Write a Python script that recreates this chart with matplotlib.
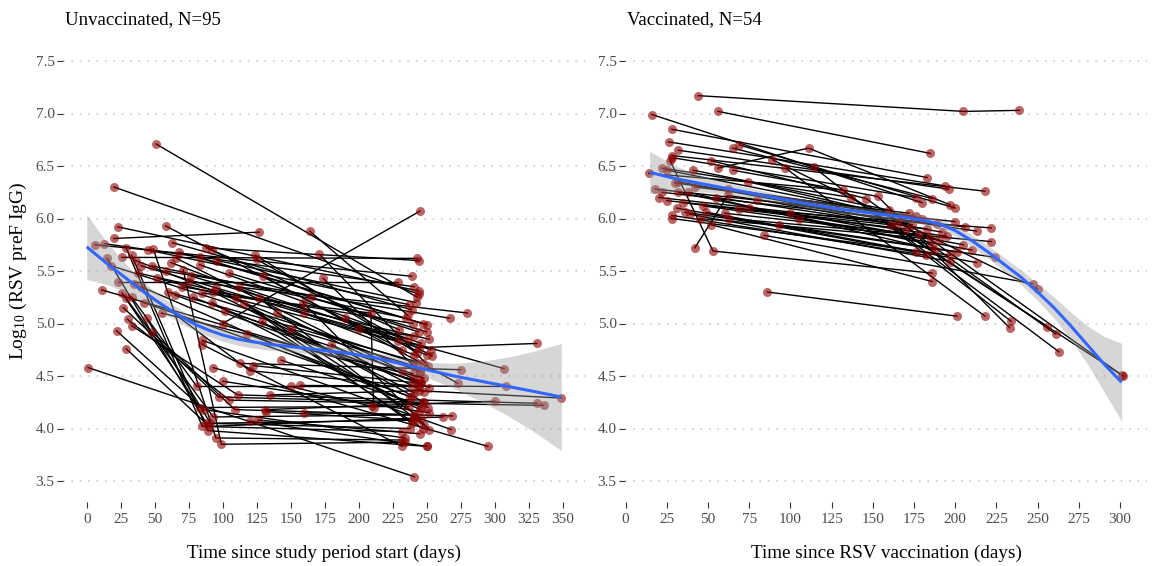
import numpy as np
import matplotlib.pyplot as plt

plt.rcParams['font.family'] = ['Liberation Serif', 'DejaVu Serif']
plt.rcParams['mathtext.fontset'] = 'custom'
plt.rcParams['mathtext.rm'] = 'Liberation Serif'
plt.rcParams['mathtext.it'] = 'Liberation Serif:italic'

# unvaccinated: one list per subject (days since study period start, log10 titer)
unvax_days = [
    [51, 243], [20, 244], [20, 127], [23, 244], [58, 232], [164, 236], [100, 245], [1, 241],
    [6, 239], [13, 241], [23, 229], [26, 243], [88, 244], [29, 85, 232], [33, 89, 250],
    [45, 237], [49, 95, 232], [63, 239], [68, 247], [71, 99, 234], [83, 250], [92, 230],
    [83, 246], [124, 243], [125, 254], [171, 251], [174, 245], [52, 229], [26, 83, 237],
    [29, 93, 241], [33, 81, 239], [11, 241], [65, 246], [78, 252], [85, 209, 211], [93, 241],
    [95, 248], [92, 245], [110, 246], [116, 239], [127, 248], [159, 252], [129, 247],
    [22, 86, 234], [29, 90, 262], [30, 105, 336], [33, 111, 331], [48, 109, 269], [85, 268],
    [85, 232], [93, 295], [113, 275], [122, 246], [131, 300], [135, 244, 349], [157, 308],
    [160, 241], [160, 307], [130, 273], [40, 244, 331], [58, 267], [75, 280], [120, 250],
    [100, 252], [18, 243], [36, 245], [40, 246], [42, 239], [55, 248], [62, 241], [38, 252],
    [27, 97, 247], [44, 91, 243], [15, 88, 238], [66, 232], [105, 250], [140, 244], [150, 240],
    [180, 248], [200, 241], [118, 238], [143, 251], [132, 240], [126, 245], [150, 210],
    [70, 240], [35, 120, 244], [48, 235], [96, 242], [112, 253], [60, 247], [77, 236],
    [102, 240], [165, 244], [190, 250],
]
unvax_vals = [
    [6.71, 5.25], [6.30, 5.28], [5.81, 5.87], [5.92, 5.31], [5.93, 4.75], [5.88, 5.08], [5.00, 6.07], [4.58, 3.54],
    [5.75, 5.45], [5.76, 5.35], [5.40, 5.40], [5.63, 5.62], [5.72, 5.60], [5.72, 4.02, 3.97], [5.65, 3.98, 3.83],
    [5.70, 5.18], [5.71, 3.91, 3.89], [5.77, 5.13], [5.68, 5.00], [5.51, 3.85, 3.87], [5.63, 4.99], [5.70, 4.94],
    [5.56, 4.81], [5.65, 4.72], [5.61, 4.69], [5.66, 4.60], [5.43, 4.54], [5.43, 4.83], [5.29, 4.20, 4.21],
    [5.24, 4.11, 4.13], [5.25, 4.40, 4.40], [5.32, 4.46], [5.27, 4.43], [5.25, 4.39], [5.29, 5.10, 4.20], [5.30, 4.34],
    [5.34, 4.25], [5.20, 4.18], [5.24, 4.10], [5.19, 4.05], [5.24, 4.03], [5.20, 3.99], [5.02, 4.00],
    [4.93, 4.18, 3.91], [4.76, 4.02, 4.11], [5.04, 4.27, 4.22], [4.98, 4.32, 4.24], [4.92, 4.18, 4.12], [4.84, 3.99],
    [4.80, 3.83], [4.58, 3.83], [4.62, 4.56], [4.60, 4.43], [4.18, 4.26], [4.32, 4.36, 4.29], [4.41, 4.40],
    [4.15, 4.13], [5.10, 4.57], [5.45, 4.43], [5.55, 4.77, 4.81], [5.50, 5.05], [5.40, 5.10], [4.07, 3.83],
    [4.45, 4.15], [5.55, 4.62], [5.60, 4.54], [5.35, 4.20], [5.20, 4.30], [5.10, 4.48], [5.58, 4.70], [5.48, 4.85],
    [5.15, 4.30, 4.25], [5.05, 4.05, 4.08], [5.62, 4.05, 4.00], [5.62, 4.55], [5.48, 4.92], [5.10, 4.45], [4.95, 4.60],
    [4.80, 4.35], [4.95, 4.88], [4.90, 4.30], [4.65, 4.20], [4.16, 4.08], [4.08, 3.95], [4.40, 4.21],
    [5.35, 5.00], [5.38, 4.55, 4.40], [5.55, 5.05], [5.60, 5.20], [5.35, 4.75], [5.30, 4.62], [5.45, 4.85],
    [5.12, 4.52], [5.25, 4.92], [5.05, 4.70],
]

# vaccinated: days since RSV vaccination
vax_days = [
    [44, 205, 239], [56, 185], [16, 180], [28, 183], [26, 194], [32, 196], [28, 218], [28, 176],
    [27, 53, 186], [65, 186], [69, 200], [56, 111, 197], [42, 62, 213], [41, 160, 301],
    [52, 146, 261], [65, 153, 233], [14, 132, 263], [22, 137, 256], [25, 189], [30, 180],
    [32, 174], [74, 168], [18, 200], [22, 206], [25, 161, 302], [32, 186], [38, 188], [31, 176],
    [28, 182], [28, 197], [36, 201], [39, 197], [49, 213], [52, 186], [63, 222], [69, 222],
    [93, 224], [84, 247], [86, 201], [89, 250], [97, 218], [114, 234], [45, 190], [60, 178],
    [35, 170], [75, 195], [20, 165], [100, 205], [55, 183], [42, 172], [80, 192], [47, 185],
    [105, 210], [62, 176],
]
vax_vals = [
    [7.17, 7.02, 7.03], [7.02, 6.62], [6.99, 6.15], [6.85, 6.39], [6.73, 6.31], [6.65, 6.28], [6.60, 6.26], [6.58, 6.20],
    [6.55, 5.69, 5.48], [6.67, 6.19], [6.70, 6.10], [6.48, 6.67, 6.13], [5.72, 6.22, 5.88], [6.46, 6.08, 4.51],
    [6.55, 6.19, 4.90], [6.46, 6.21, 4.96], [6.43, 6.27, 4.73], [6.48, 6.20, 4.97], [6.46, 5.95], [6.34, 6.00],
    [6.35, 5.94], [6.35, 6.01], [6.28, 5.97], [6.25, 5.92], [6.17, 5.94, 4.50], [6.25, 5.75], [6.25, 5.70], [6.10, 5.68],
    [6.03, 5.65], [6.00, 5.65], [6.06, 5.68], [6.04, 5.59], [6.06, 5.58], [5.94, 5.40], [6.00, 5.78], [6.09, 5.91],
    [5.94, 5.63], [5.84, 5.38], [5.30, 5.07], [6.56, 5.33], [6.48, 5.07], [6.49, 5.02], [6.00, 5.80], [6.05, 5.85],
    [6.15, 5.90], [6.10, 5.83], [6.20, 5.95], [6.05, 5.75], [6.20, 5.90], [6.30, 6.05], [6.18, 5.87], [6.12, 5.82],
    [6.00, 5.70], [6.28, 6.02],
]

# loess fit: centre and half width of the confidence band
unvax_fit_x = [0, 15, 30, 45, 60, 70, 80, 90, 100, 110, 120, 135, 150, 170, 190, 210, 230, 250, 270, 290, 310, 330, 349]
unvax_fit_y = [5.73, 5.57, 5.42, 5.27, 5.14, 5.06, 4.99, 4.935, 4.89, 4.855, 4.83, 4.80, 4.78, 4.75, 4.72, 4.68, 4.62, 4.56, 4.50, 4.45, 4.40, 4.35, 4.30]
unvax_fit_se = [0.31, 0.20, 0.13, 0.09, 0.07, 0.065, 0.06, 0.06, 0.06, 0.06, 0.06, 0.055, 0.05, 0.05, 0.05, 0.05, 0.055, 0.07, 0.12, 0.19, 0.28, 0.39, 0.51]

vax_fit_x = [14.6, 30, 50, 70, 90, 110, 130, 150, 170, 180, 190, 200, 210, 220, 230, 240, 250, 260, 270, 280, 290, 301]
vax_fit_y = [6.44, 6.38, 6.32, 6.26, 6.20, 6.14, 6.09, 6.05, 6.01, 5.985, 5.95, 5.885, 5.79, 5.68, 5.56, 5.44, 5.30, 5.15, 4.98, 4.80, 4.62, 4.44]
vax_fit_se = [0.20, 0.12, 0.07, 0.05, 0.04, 0.04, 0.04, 0.04, 0.04, 0.04, 0.045, 0.05, 0.055, 0.06, 0.065, 0.07, 0.08, 0.10, 0.13, 0.18, 0.26, 0.37]

y_ticks = [3.5, 4.0, 4.5, 5.0, 5.5, 6.0, 6.5, 7.0, 7.5]

W, H = 1157, 566
fig = plt.figure(figsize=(W / 100, H / 100), dpi=100)


def panel(x0, x1, days, vals, fx, fy, fse, xlim, xticks, title, xlabel):
    ax = fig.add_axes([x0 / W, 1 - 502 / H, (x1 - x0) / W, (502 - 40) / H])
    for d, v in zip(days, vals):
        ax.plot(d, v, color='black', lw=1.0, zorder=2)
    all_d = np.concatenate([np.array(d, float) for d in days])
    all_v = np.concatenate([np.array(v, float) for v in vals])
    ax.scatter(all_d, all_v, s=42, color='#8B0000', alpha=0.6, linewidths=0, zorder=3)
    fx, fy, fse = np.array(fx), np.array(fy), np.array(fse)
    ax.fill_between(fx, fy - fse, fy + fse, color='#999999', alpha=0.4, lw=0, zorder=4)
    ax.plot(fx, fy, color='#3366FF', lw=2.2, zorder=5, solid_capstyle='butt')

    ax.set_xlim(*xlim)
    ax.set_ylim(3.3, 7.7)
    ax.set_xticks(xticks)
    ax.set_yticks(y_ticks)
    ax.set_yticklabels([f"{t:.1f}" for t in y_ticks])
    for t in y_ticks:
        ax.axhline(t, color='#c4c4c4', lw=1.1, ls=(0, (1, 4.5)), zorder=0)
    for s in ax.spines.values():
        s.set_visible(False)
    ax.tick_params(axis='both', colors='#333333', labelcolor='#4d4d4d', labelsize=11,
                   length=4, width=0.8, direction='out', pad=2)
    ax.tick_params(axis='x', pad=4)
    ax.set_facecolor('white')
    fig.text((x0 + 2) / W, 1 - 20 / H, title, ha='left', va='center', fontsize=13.5)
    fig.text((x0 + x1) / 2 / W, 1 - 553 / H, xlabel, ha='center', va='center', fontsize=13.75)
    return ax


panel(63, 585, unvax_days, unvax_vals, unvax_fit_x, unvax_fit_y, unvax_fit_se,
      (-17.45, 366.45), list(range(0, 351, 25)), "Unvaccinated, N=95",
      "Time since study period start (days)")
panel(625, 1147, vax_days, vax_vals, vax_fit_x, vax_fit_y, vax_fit_se,
      (-0.4, 316.4), list(range(0, 301, 25)), "Vaccinated, N=54",
      "Time since RSV vaccination (days)")

fig.text(18 / W, 1 - 271 / H, r"Log$_{10}$ (RSV preF IgG)", rotation=90,
         ha='center', va='center', fontsize=14)

fig.savefig("out.png", dpi=100)
